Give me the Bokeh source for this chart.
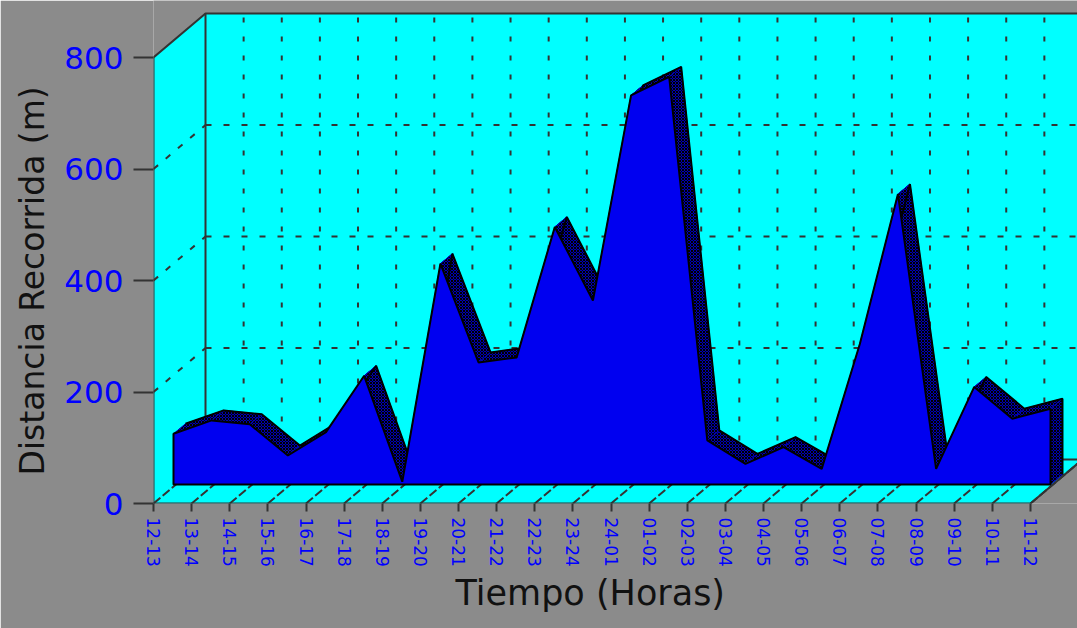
from bokeh.plotting import figure
from bokeh.models import Range1d, FixedTicker, Title
from bokeh.embed import file_html
from bokeh.resources import INLINE

# ---- data -------------------------------------------------------------
HOURS = ["12-13", "13-14", "14-15", "15-16", "16-17", "17-18", "18-19",
         "19-20", "20-21", "21-22", "22-23", "23-24", "24-01", "01-02",
         "02-03", "03-04", "04-05", "05-06", "06-07", "07-08", "08-09",
         "09-10", "10-11", "11-12"]
DIST = [91, 115, 108, 52, 94, 195, 5, 396, 219, 228, 462, 330,
        698, 731, 79, 37, 67, 28, 252, 521, 28, 175, 118, 136]
Y_TICKS = [0, 200, 400, 600, 800]
Y_TITLE = "Distancia Recorrida (m)"
X_TITLE = "Tiempo (Horas)"

# ---- styling / layout ----------------------------------------------
GRAY = "#8b8b8b"
CYAN = "#00ffff"
BLUE = "#0000f0"
RIBBON = "#0000b4"
EDGE = "#333333"
W, H = 1077, 628
LEFT, BOTTOM = 153, 125
PX_CAT = 38.13   # pixels per category step
PX_M = 0.5575    # pixels per metre
FONT = "DejaVu Sans"


def dx(px):
    return px / PX_CAT


def dy(px):
    return px / PX_M


n = len(HOURS)
last = n - 1
YMAX = Y_TICKS[-1]
BX, BY = dx(52), dy(44)      # depth of the box
FX, FY = dx(20), dy(19)      # front of the area ribbon
KX, KY = dx(32), dy(29)      # back of the area ribbon

p = figure(width=W, height=H,
           x_range=Range1d(0, dx(W - LEFT)), y_range=Range1d(0, dy(H - BOTTOM)),
           output_backend="svg", toolbar_location=None,
           min_border_left=LEFT, min_border_right=0, min_border_top=0,
           min_border_bottom=BOTTOM)
p.background_fill_color = GRAY
p.border_fill_color = GRAY
p.outline_line_color = None
p.xgrid.visible = False
p.ygrid.visible = False

# ---- 3D box: floor, left wall, back wall ------------------------------
p.patch([0, last, last + BX, BX], [0, 0, BY, BY], fill_color=CYAN, line_color=None)
p.patch([0, 0, BX, BX], [0, YMAX, YMAX + BY, BY], fill_color=CYAN, line_color=None)
p.patch([BX, last + BX + 2, last + BX + 2, BX], [BY, BY, YMAX + BY, YMAX + BY],
        fill_color=CYAN, line_color=None)

grid_vals = Y_TICKS[1:-1]
p.multi_line([[BX, last + BX + 2] for _ in grid_vals], [[v + BY, v + BY] for v in grid_vals],
             line_color=EDGE, line_width=2, line_dash="6 12")
p.multi_line([[0, BX] for _ in grid_vals], [[v, v + BY] for v in grid_vals],
             line_color=EDGE, line_width=2, line_dash="6 10")
p.multi_line([[i + BX, i + BX] for i in range(1, n)], [[BY, YMAX + BY] for _ in range(1, n)],
             line_color=EDGE, line_width=2, line_dash="5 14")
p.multi_line([[i, i + BX] for i in range(n)], [[0, BY] for _ in range(n)],
             line_color=EDGE, line_width=2, line_dash="9 3")

edges_x = [[0, 0, BX, last + BX + 2], [BX, BX], [BX, last + BX + 2], [0, last, last + BX]]
edges_y = [[0, YMAX, YMAX + BY, YMAX + BY], [BY, YMAX + BY], [BY, BY], [0, 0, BY]]
p.multi_line(edges_x, edges_y, line_color=EDGE, line_width=2)

# ---- area series -------------------------------------------------------
fx = [i + FX for i in range(n)]
fy = [v + FY for v in DIST]
kx = [i + KX for i in range(n)]
ky = [v + KY for v in DIST]

qx = [[fx[i], fx[i + 1], kx[i + 1], kx[i]] for i in range(n - 1)]
qy = [[fy[i], fy[i + 1], ky[i + 1], ky[i]] for i in range(n - 1)]
qx.append([fx[-1], fx[-1], kx[-1], kx[-1]])
qy.append([FY, fy[-1], ky[-1], KY])
p.patches(qx, qy, fill_color=RIBBON, line_color=RIBBON, line_width=1,
          hatch_pattern="x", hatch_color="black", hatch_scale=3, hatch_weight=1)
p.line(kx + [kx[-1]], ky + [KY], line_color="black", line_width=2)

p.patch(fx + [fx[-1], fx[0]], fy + [FY, FY], fill_color=BLUE,
        line_color="black", line_width=2)

# ---- axes ----------------------------------------------------------------
for ax in (p.xaxis[0], p.yaxis[0]):
    ax.axis_line_color = None
    ax.major_tick_line_color = EDGE
    ax.major_tick_line_width = 2
    ax.minor_tick_line_color = None
    ax.major_tick_in = 0
    ax.major_label_text_color = "#0000ff"
    ax.major_label_text_font = FONT

p.yaxis.ticker = FixedTicker(ticks=Y_TICKS)
p.yaxis.major_tick_out = 20
p.yaxis.major_label_standoff = 10
p.yaxis.major_label_text_font_size = "31px"

p.xaxis.ticker = FixedTicker(ticks=list(range(n)))
p.xaxis.major_label_overrides = {i: h for i, h in enumerate(HOURS)}
p.xaxis.major_label_orientation = "vertical"
p.xaxis.major_tick_out = 8
p.xaxis.major_label_standoff = 6
p.xaxis.major_label_text_font_size = "17px"

p.add_layout(Title(text=Y_TITLE, align="left", offset=28, vertical_align="middle",
                   standoff=18, text_font=FONT, text_font_size="33px",
                   text_font_style="normal", text_color="#111111"), "left")
p.add_layout(Title(text=X_TITLE, align="left", offset=302, vertical_align="top",
                   standoff=6, text_font=FONT, text_font_size="35px",
                   text_font_style="normal", text_color="#111111"), "below")

open("out.html", "w").write(file_html(p, INLINE))
